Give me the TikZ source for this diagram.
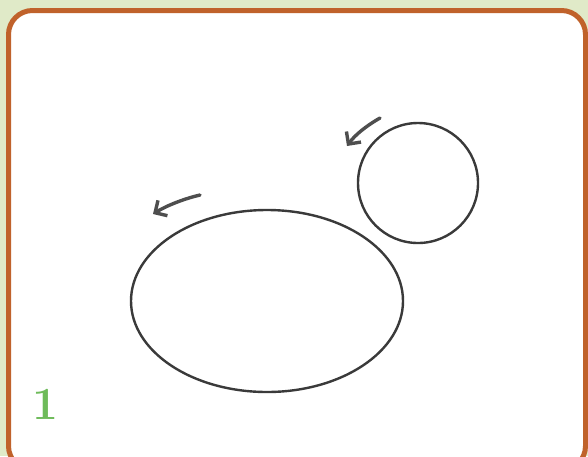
\documentclass[tikz,border=0pt]{standalone}
\usepackage{tikz}
\usetikzlibrary{arrows.meta,shapes.geometric}
\definecolor{pageGreen}{RGB}{224,234,200}
\definecolor{frameOrange}{RGB}{192,98,43}
\definecolor{pencilGray}{RGB}{58,58,58}
\definecolor{stepGreen}{RGB}{110,187,90}
\tikzset{
  frame/.style={draw=frameOrange, line width=5pt, fill=white, rounded corners=24pt},
  sketch/.style={draw=pencilGray, line width=2.4pt},
  turn/.style={-{Straight Barb[length=9pt,width=18pt,line width=3.4pt]}, draw=pencilGray!90, line width=3.4pt, line cap=round},
  steplabel/.style={text=stepGreen, font=\fontsize{46}{46}\selectfont\bfseries}
}

\begin{document}
\begin{tikzpicture}[x=1pt, y=-1pt]
  \fill[pageGreen] (0,0) rectangle (588,456);
  \useasboundingbox (0,0) rectangle (588,456);
  \draw[frame] (8.5,10.5) rectangle (585.5,470);

  \node[sketch, ellipse, minimum width=272pt, minimum height=182pt] (body) at (267,301) {};
  \node[sketch, circle, minimum size=120pt] (head) at (418,183) {};

  \coordinate (headFrom) at (380,118);
  \coordinate (headTo) at (347,146);
  \coordinate (bodyFrom) at (200,195);
  \coordinate (bodyTo) at (153,214);

  \draw[turn] (headFrom) .. controls (366,126) and (355,135) .. (headTo);
  \draw[turn] (bodyFrom) .. controls (183,199) and (166,206) .. (bodyTo);

  \node[steplabel] (step) at (45,404) {1};
\end{tikzpicture}
\end{document}
